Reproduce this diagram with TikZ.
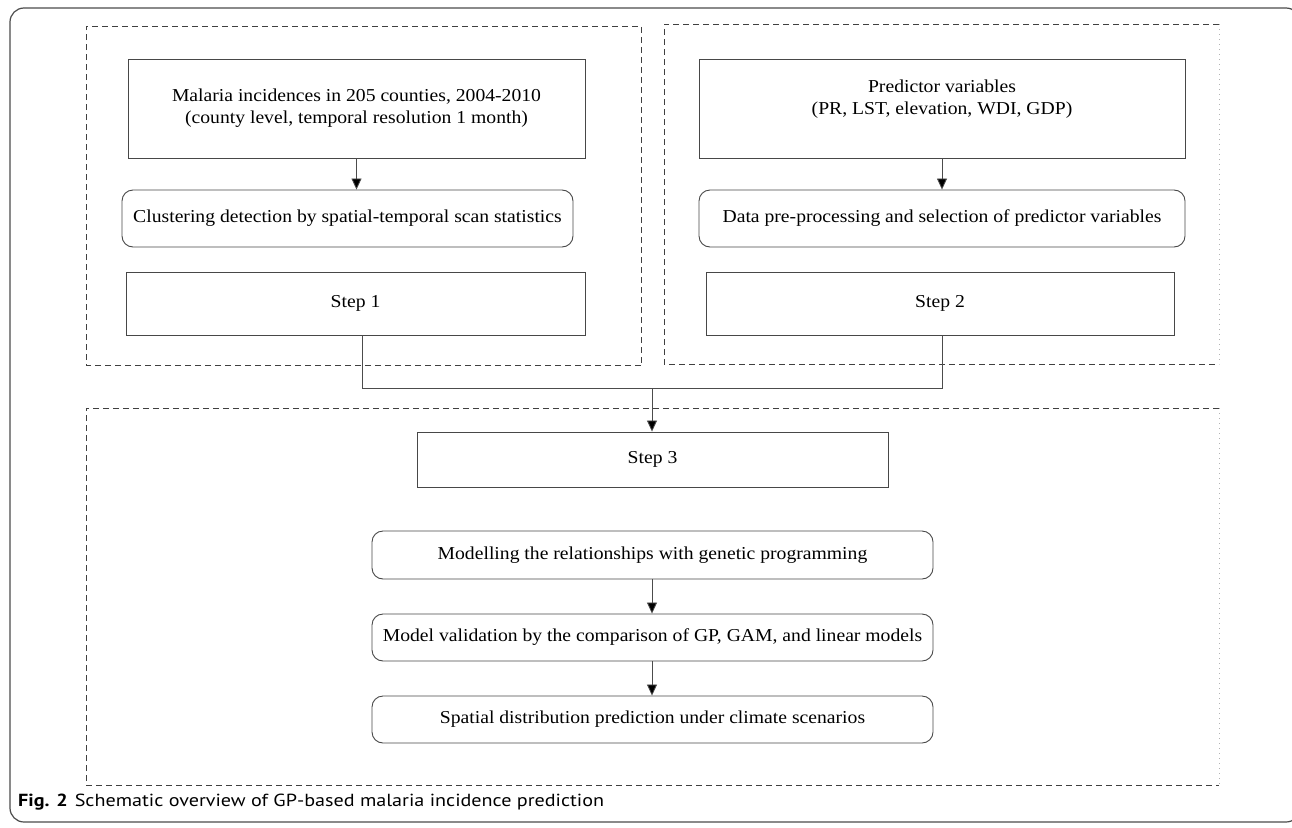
\documentclass[tikz,border=0pt]{standalone}
\usepackage{fontspec}
\setmainfont[FakeStretch=1.08]{Liberation Serif}
\newfontfamily\capfont[FakeStretch=1.15]{PT Sans}
\usetikzlibrary{arrows.meta}
\begin{document}
\begin{tikzpicture}[x=1pt,y=-1pt,
  box/.style={draw=black!72, line width=0.9pt, inner sep=0pt, align=center,
    font=\fontsize{18.2}{22}\selectfont},
  rbox/.style={box, rounded corners=11pt},
  dline/.style={draw=black!75, line width=0.8pt, dash pattern=on 6pt off 4pt},
  dotline/.style={draw=black!30, line width=0.8pt, dash pattern=on 1pt off 4pt},
  conn/.style={draw=black!70, line width=0.8pt},
  arr/.style={conn, -{Triangle[length=11pt,width=10pt,fill=black]}},
  frame/.style={draw=black!70, line width=1.2pt, rounded corners=14pt}
]
\useasboundingbox (0,0) rectangle (1292,827);
\clip (0,0) rectangle (1292,827);
% outer frame
\draw[frame] (10,8) rectangle (1300,822);
% dashed groups
\draw[dline] (641,365) -- (86,365) -- (86,26) -- (641,26) -- cycle;
\draw[dline] (1219,24) -- (664,24) -- (664,364) -- (1219,364);
\draw[dotline] (1219,24) -- (1219,364);
\draw[dline] (1219,408) -- (86,408) -- (86,785) -- (1219,785);
\draw[dotline] (1219,408) -- (1219,785);
% nodes
\node[box, minimum width=457pt, minimum height=99pt] (mal) at (356.5,108.5)
  {Malaria incidences in 205 counties, 2004-2010\\(county level, temporal resolution 1 month)};
\node[rbox, minimum width=451pt, minimum height=57pt] (clu) at (347.5,218.5)
  {Clustering detection by spatial-temporal scan statistics};
\node[box, minimum width=459pt, minimum height=63pt] (s1) at (355.5,303.5) {Step 1};
\node[box, minimum width=486pt, minimum height=99pt] (pre) at (942,108.5)
  {Predictor variables\\(PR, LST, elevation, WDI, GDP)\\\mbox{}};
\node[rbox, minimum width=486pt, minimum height=57pt] (dat) at (942,218.5)
  {Data pre-processing and selection of predictor variables};
\node[box, minimum width=468pt, minimum height=63pt] (s2) at (940,303.5) {Step 2};
\node[box, minimum width=471pt, minimum height=55pt] (s3) at (652.5,459.5) {Step 3};
\node[rbox, minimum width=561pt, minimum height=48pt] (mod) at (652.5,555)
  {Modelling the relationships with genetic programming};
\node[rbox, minimum width=561pt, minimum height=47pt] (val) at (652.5,637.5)
  {Model validation by the comparison of GP, GAM, and linear models};
\node[rbox, minimum width=561pt, minimum height=47pt] (spa) at (652.5,719.5)
  {Spatial distribution prediction under climate scenarios};
% connectors
\draw[arr] (mal.south) -- (mal.south |- clu.north);
\draw[arr] (pre.south) -- (pre.south |- dat.north);
\coordinate (jl) at (362.5,388);
\coordinate (jr) at (942,388);
\coordinate (jm) at (652,388);
\draw[conn] (s1.south -| jl) -- (jl) -- (jr) -- (s2.south -| jr);
\draw[arr] (jm) -- (jm |- s3.north);
\draw[arr] (mod.south -| jm) -- (jm |- val.north);
\draw[arr] (val.south -| jm) -- (jm |- spa.north);
% caption
\node[anchor=base west, inner sep=0pt, font=\capfont\fontsize{17.5}{20}\selectfont] (cap) at (18,806)
  {\textbf{Fig. 2}\hspace{7pt}Schematic overview of GP-based malaria incidence prediction};
\end{tikzpicture}
\end{document}
